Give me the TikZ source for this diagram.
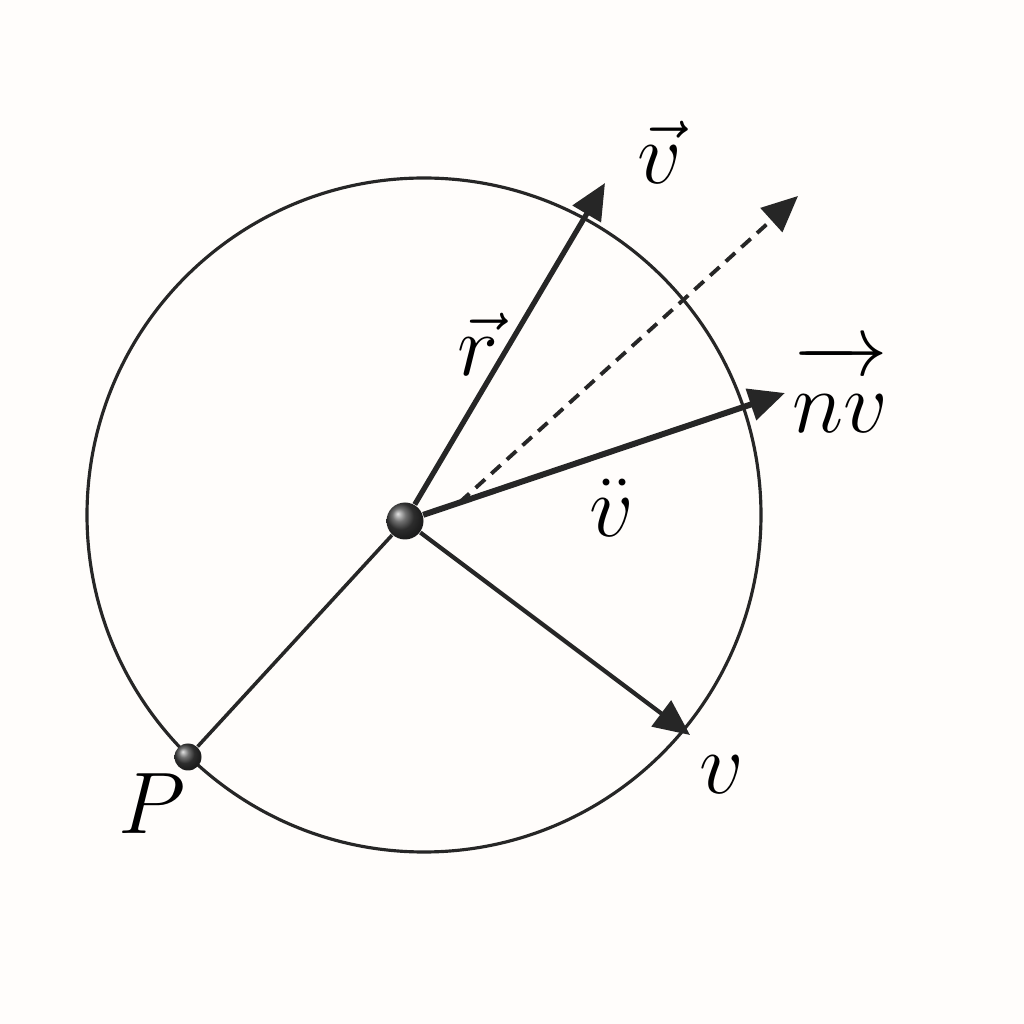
\documentclass[tikz,border=0pt]{standalone}
\usetikzlibrary{arrows.meta}

\tikzset{
  dot/.style={circle, inner sep=0pt, shading=ball, ball color=black!75},
  lbl/.style={inner sep=1pt, font=\fontsize{26}{30}\selectfont},
  vec/.style={-{Triangle[length=3.6mm,width=3.2mm]}},
}

\begin{document}
\begin{tikzpicture}

\fill[white!97!orange!50] (0,0) rectangle (10.24,10.24);
\useasboundingbox (0,0) rectangle (10.24,10.24);

\draw[line width=0.9pt, black!85] (4.24, 5.09) circle (3.37);

\node[dot, minimum size=0.37cm] (o) at (4.05, 5.03) {};
\node[dot, minimum size=0.27cm] (p) at (1.88, 2.67) {};

\coordinate (tr) at (6.05, 8.41);
\coordinate (td) at (7.98, 8.28);
\coordinate (tn) at (7.85, 6.31);
\coordinate (tv) at (6.90, 2.89);
\coordinate (sd) at (4.60, 5.22);

\node[lbl] (lv) at (6.60, 8.72) {$\vec{v}$};
\node[lbl] (lr) at (4.78, 6.80) {$\vec{r}$};
\node[lbl] (ln) at (8.40, 6.36) {$\overrightarrow{\vphantom{h}nv}$};
\node[lbl] (ld) at (6.12, 5.16) {$\ddot{v}$};
\node[lbl] (lV) at (7.22, 2.49) {$v$};
\node[lbl] (lp) at (1.52, 2.20) {$P$};

\draw[vec, line width=1.5pt, black!85] (o) -- (tr);
\draw[vec, line width=1.7pt, black!85] (o) -- (tn);
\draw[vec, line width=1.2pt, black!85] (o) -- (tv);
\draw[vec, line width=1.1pt, black!85, dash pattern=on 3.6pt off 2.4pt] (sd) -- (td);
\draw[line width=1pt, black!85] (o) -- (p);

\end{tikzpicture}
\end{document}
